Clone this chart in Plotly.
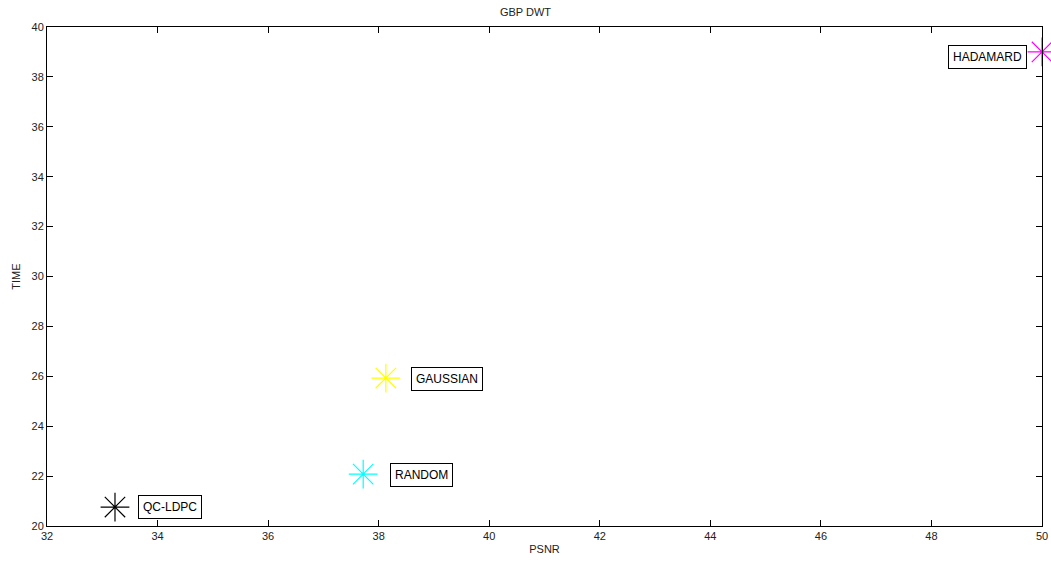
import plotly.graph_objects as go

methods = ["QC-LDPC", "RANDOM", "GAUSSIAN", "HADAMARD"]
psnr = [33.23, 37.72, 38.13, 50.0]
time_vals = [20.76, 22.08, 25.93, 39.0]
colors = ["#000000", "#00ffff", "#ffff00", "#ff00ff"]
# label placement relative to each marker (pixels)
label_anchor = ["left", "left", "left", "right"]
label_dx = [23, 27, 25, -15]
label_dy = [0, -1, -1, -5]

fig = go.Figure()
for m, x, y, c in zip(methods, psnr, time_vals, colors):
    fig.add_trace(go.Scatter(
        x=[x], y=[y], mode="markers", name=m,
        marker=dict(symbol="asterisk-open", size=24, color=c,
                    line=dict(color=c, width=1.2)),
        cliponaxis=False,
    ))

for m, x, y, a, dx, dy in zip(methods, psnr, time_vals, label_anchor, label_dx, label_dy):
    fig.add_annotation(
        x=x, y=y, text=m, showarrow=False, xanchor=a, yanchor="middle",
        xshift=dx, yshift=dy, bgcolor="white", bordercolor="black",
        borderwidth=1, borderpad=4,
        font=dict(family="Liberation Sans, Arial", size=12, color="black"),
    )

axis_common = dict(
    showgrid=False, zeroline=False, showline=True, linecolor="black",
    linewidth=1, mirror="ticks", ticks="inside", ticklen=6,
    tickcolor="black", tickfont=dict(size=11, color="#222"),
)

fig.update_layout(
    width=1051, height=562,
    margin=dict(l=47, r=9, t=27, b=36, autoexpand=False),
    paper_bgcolor="white", plot_bgcolor="white",
    showlegend=False,
    font=dict(family="Liberation Sans, Arial", size=11, color="#222"),
    title=dict(text="GBP DWT", x=0.5, xanchor="center", y=0.978, yanchor="middle",
               font=dict(size=11, color="#222")),
    xaxis=dict(title=dict(text="PSNR", standoff=4, font=dict(size=11)),
               range=[32, 50], dtick=2, **axis_common),
    yaxis=dict(title=dict(text="TIME", standoff=8, font=dict(size=11)),
               range=[20, 40], dtick=2, **axis_common),
)

fig.write_html("out.html")
